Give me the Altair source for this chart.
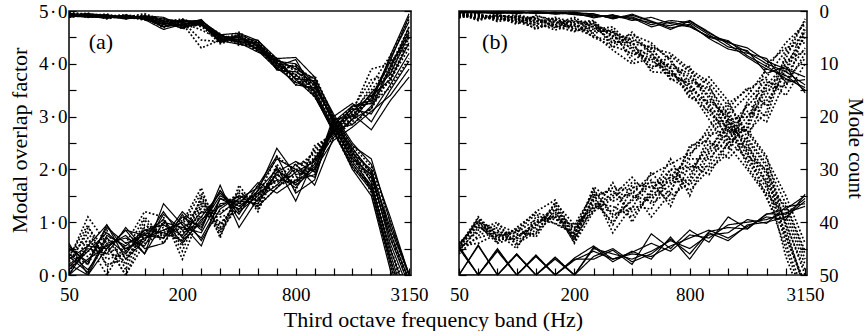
import altair as alt
import pandas as pd

# Third-octave band centre frequencies (Hz), plotted at equal spacing
bands = ["50", "63", "80", "100", "125", "160", "200", "250", "315", "400",
         "500", "630", "800", "1000", "1250", "1600", "2000", "2500", "3150"]
labelled_bands = ["50", "200", "800", "3150"]
overlap_ticks = [0, 1, 2, 3, 4, 5]
count_ticks = [0, 10, 20, 30, 40, 50]
panel_names = ["(a)", "(b)"]
panel_label_x = [1.04, 1.2]
panel_label_y = [4.41, 4.41]

# ---- panel (a): modal overlap factor per band ----
a_overlap_solid = [
    [0.60, 0.00, 0.50, 0.85, 0.40, 1.35, 0.95, 0.55, 1.45, 1.25, 1.60, 2.40, 1.90, 2.00, 2.90, 3.20, 3.30, 4.05, 4.90],
    [0.00, 0.55, 0.95, 0.45, 0.80, 0.70, 1.20, 0.85, 1.70, 0.90, 1.45, 1.70, 2.10, 1.70, 2.60, 2.95, 3.15, 3.90, 4.70],
    [0.30, 0.55, 0.50, 0.85, 0.75, 1.05, 0.60, 1.05, 1.30, 1.50, 1.40, 2.05, 1.40, 2.20, 2.70, 3.05, 2.75, 3.30, 3.75],
    [0.00, 0.30, 0.55, 0.75, 0.40, 1.00, 0.90, 0.80, 1.45, 1.35, 1.75, 1.55, 1.80, 1.90, 2.80, 3.10, 3.40, 3.70, 4.40],
    [0.50, 0.25, 0.90, 0.60, 0.75, 0.70, 1.10, 0.90, 1.60, 1.20, 1.50, 1.90, 1.65, 2.10, 2.75, 2.85, 3.20, 3.95, 4.60],
    [0.20, 0.00, 0.70, 0.40, 0.85, 0.95, 0.75, 1.20, 1.15, 1.45, 1.65, 2.20, 2.00, 1.85, 2.85, 3.15, 3.05, 3.60, 4.20],
    [0.40, 0.10, 0.60, 0.70, 0.55, 1.15, 0.85, 0.95, 1.50, 1.30, 1.55, 1.80, 1.75, 2.05, 2.65, 2.95, 3.35, 4.10, 4.80],
    [0.10, 0.45, 0.80, 0.50, 0.70, 0.85, 1.00, 0.70, 1.35, 1.40, 1.35, 1.95, 2.15, 1.95, 3.00, 3.25, 2.90, 3.50, 4.05],
    [0.55, 0.20, 0.95, 0.30, 0.65, 1.20, 0.70, 1.10, 1.55, 1.15, 1.70, 2.25, 1.55, 1.80, 2.95, 3.00, 3.45, 3.80, 4.55],
    [0.15, 0.50, 0.40, 0.90, 0.50, 0.60, 1.15, 0.65, 1.25, 1.50, 1.30, 1.65, 1.95, 2.15, 2.70, 3.20, 3.25, 4.15, 4.95],
    [0.35, 0.05, 0.75, 0.55, 0.85, 0.80, 0.65, 1.00, 1.60, 1.05, 1.60, 2.00, 1.70, 2.00, 2.55, 2.80, 3.10, 3.40, 3.90],
]
a_overlap_dotted = [
    [0.30, 1.10, 0.60, 0.00, 0.60, 0.80, 1.00, 1.65, 0.70, 1.70, 1.20, 2.00, 1.70, 2.40, 2.70, 3.10, 3.90, 4.00, 4.50],
    [0.00, 0.60, 0.00, 0.60, 1.20, 1.10, 0.30, 1.20, 1.00, 1.25, 1.60, 1.80, 1.90, 2.20, 2.80, 3.05, 3.30, 3.70, 4.30],
    [0.25, 0.80, 0.30, 0.40, 0.90, 0.95, 0.80, 1.40, 0.90, 1.50, 1.30, 1.65, 2.05, 2.30, 2.75, 2.95, 3.45, 3.85, 4.65],
    [0.50, 0.35, 0.70, 0.20, 1.05, 0.60, 1.05, 1.25, 1.20, 1.35, 1.45, 1.90, 1.85, 2.10, 2.85, 3.20, 3.25, 3.55, 4.10],
    [0.15, 0.90, 0.45, 0.50, 0.65, 1.00, 0.55, 1.50, 0.80, 1.60, 1.25, 2.10, 1.60, 2.45, 2.65, 3.00, 3.60, 4.15, 4.85],
    [0.40, 0.20, 0.85, 0.10, 0.95, 0.75, 0.90, 1.10, 1.10, 1.20, 1.70, 1.75, 2.00, 2.00, 2.90, 2.85, 3.15, 3.75, 4.40],
    [0.05, 0.70, 0.20, 0.30, 0.75, 0.90, 0.65, 1.35, 0.75, 1.45, 1.35, 1.95, 1.75, 2.25, 2.70, 3.10, 3.50, 3.95, 4.70],
    [0.35, 0.95, 0.15, 0.45, 1.10, 0.70, 0.95, 1.55, 0.95, 1.40, 1.50, 2.25, 1.95, 2.35, 2.75, 3.15, 3.70, 3.80, 4.60],
    [0.20, 0.45, 0.55, 0.00, 0.80, 1.05, 0.45, 1.30, 1.30, 1.55, 1.40, 1.85, 2.10, 2.15, 2.85, 3.00, 3.35, 4.05, 4.35],
    [0.45, 0.65, 0.40, 0.35, 0.70, 0.85, 0.75, 1.45, 0.85, 1.30, 1.55, 1.70, 1.80, 2.20, 2.60, 2.90, 3.40, 3.65, 4.50],
]
# ---- panel (a): mode count per band ----
a_count_solid = [
    [0.5, 0.8, 1.0, 1.2, 1.0, 1.5, 2.0, 1.8, 4.5, 4.2, 5.6, 9.0, 8.8, 12.5, 20.0, 25.5, 28.0, 40.0, 50.0],
    [1.0, 0.6, 1.3, 0.9, 1.4, 3.0, 1.6, 2.6, 5.6, 6.3, 7.0, 10.8, 13.5, 15.0, 22.0, 28.0, 31.0, 44.0, 53.0],
    [0.8, 1.1, 0.7, 1.4, 1.2, 2.2, 3.2, 1.9, 4.8, 5.0, 6.4, 9.5, 10.0, 13.8, 21.0, 26.5, 32.5, 46.0, 57.0],
    [0.6, 0.9, 1.2, 1.0, 1.6, 3.5, 2.5, 2.2, 6.0, 4.8, 7.5, 11.0, 12.0, 16.0, 23.0, 29.5, 34.0, 48.0, 60.0],
    [1.2, 0.7, 0.9, 1.3, 0.9, 1.2, 2.8, 2.6, 5.2, 5.8, 6.0, 10.2, 14.0, 14.5, 20.5, 27.0, 30.0, 42.0, 51.0],
    [0.4, 1.0, 1.4, 0.8, 1.3, 2.6, 1.8, 2.0, 4.4, 6.0, 7.8, 9.2, 11.0, 12.8, 19.5, 25.0, 29.0, 39.0, 50.0],
    [0.9, 1.2, 1.1, 1.5, 1.1, 1.8, 3.0, 2.4, 5.9, 4.6, 6.8, 10.5, 9.2, 15.5, 22.5, 30.0, 35.0, 49.0, 62.0],
    [0.7, 0.5, 0.8, 1.1, 1.5, 2.4, 2.2, 1.7, 5.0, 5.4, 5.5, 9.8, 12.8, 13.2, 21.5, 28.5, 33.0, 45.0, 55.0],
    [0.6, 1.0, 0.8, 1.3, 1.4, 2.9, 2.6, 1.6, 5.4, 5.0, 6.6, 10.0, 10.5, 14.2, 20.8, 26.0, 30.5, 41.0, 50.0],
    [1.0, 0.8, 1.2, 1.2, 1.0, 1.9, 1.9, 2.5, 4.6, 5.6, 7.2, 9.0, 13.0, 16.2, 22.8, 29.0, 33.5, 47.0, 58.0],
    [0.8, 0.6, 1.0, 0.9, 1.5, 2.1, 3.3, 2.1, 5.7, 4.4, 6.0, 11.2, 11.5, 13.5, 21.2, 27.5, 31.5, 43.0, 52.0],
]
a_count_dotted = [
    [0.3, 0.6, 0.9, 1.2, 0.5, 1.8, 2.4, 7.0, 5.5, 4.0, 6.5, 9.0, 11.5, 14.0, 21.0, 26.0, 31.0, 43.0, 51.0],
    [0.8, 1.0, 1.2, 0.9, 1.3, 2.0, 1.5, 2.8, 6.2, 5.2, 7.2, 10.0, 12.5, 16.3, 22.0, 29.0, 33.5, 47.0, 58.0],
    [1.1, 0.8, 0.6, 1.4, 1.0, 2.8, 2.6, 2.0, 4.6, 6.5, 6.0, 11.0, 10.5, 13.0, 20.5, 27.5, 30.5, 41.0, 50.0],
    [0.5, 1.2, 1.0, 1.1, 1.7, 1.4, 3.4, 2.5, 5.0, 5.6, 7.6, 9.5, 13.0, 15.2, 23.0, 28.0, 32.0, 45.0, 54.0],
    [0.9, 0.4, 1.5, 0.8, 1.2, 3.2, 2.0, 5.5, 5.8, 4.6, 6.2, 10.6, 12.0, 14.8, 21.8, 26.8, 34.5, 48.0, 61.0],
    [0.6, 0.9, 0.7, 1.5, 0.8, 2.3, 2.9, 2.2, 4.3, 6.0, 5.8, 9.3, 14.0, 12.2, 20.0, 25.5, 29.5, 40.0, 50.0],
    [1.0, 0.7, 1.1, 1.0, 1.4, 1.6, 2.2, 3.6, 5.3, 5.0, 7.0, 10.3, 11.0, 15.8, 22.8, 29.8, 33.0, 45.0, 56.0],
    [0.7, 0.6, 1.3, 1.0, 1.6, 2.5, 1.7, 3.0, 4.7, 6.2, 6.6, 9.7, 12.2, 14.2, 21.2, 28.2, 31.8, 42.0, 52.0],
    [0.4, 1.1, 0.8, 1.3, 0.9, 1.9, 2.7, 2.4, 5.6, 4.8, 7.4, 10.8, 10.2, 15.5, 22.5, 27.2, 33.8, 47.0, 59.0],
    [1.2, 0.8, 1.0, 0.7, 1.3, 3.0, 2.3, 2.6, 5.1, 5.9, 5.7, 9.9, 13.5, 13.6, 20.2, 26.2, 30.8, 42.0, 51.0],
]

# ---- panel (b): modal overlap factor per band ----
b_overlap_solid = [
    [0.00, 0.57, 0.00, 0.40, 0.00, 0.34, 0.00, 0.53, 0.25, 0.45, 0.30, 0.72, 0.30, 0.80, 0.65, 0.95, 1.00, 1.10, 1.40],
    [0.55, 0.00, 0.50, 0.00, 0.38, 0.00, 0.30, 0.30, 0.47, 0.20, 0.78, 0.50, 0.85, 0.62, 1.10, 0.88, 1.15, 1.25, 1.50],
    [0.00, 0.55, 0.00, 0.38, 0.00, 0.30, 0.00, 0.50, 0.40, 0.30, 0.45, 0.65, 0.50, 0.76, 0.80, 1.05, 0.98, 1.29, 1.35],
    [0.50, 0.00, 0.48, 0.00, 0.35, 0.00, 0.28, 0.45, 0.30, 0.40, 0.35, 0.55, 0.70, 0.85, 0.70, 0.92, 1.10, 1.05, 1.53],
    [0.00, 0.00, 0.45, 0.00, 0.36, 0.00, 0.32, 0.55, 0.30, 0.43, 0.60, 0.45, 0.76, 0.70, 0.95, 1.00, 1.05, 1.18, 1.30],
    [0.52, 0.00, 0.00, 0.40, 0.00, 0.33, 0.00, 0.35, 0.50, 0.25, 0.40, 0.68, 0.40, 0.82, 0.90, 0.87, 1.16, 1.15, 1.45],
]
b_overlap_dotted = [
    [0.55, 1.10, 0.75, 0.85, 1.20, 1.42, 0.75, 1.67, 1.40, 1.55, 1.90, 2.10, 2.30, 2.60, 3.05, 3.40, 3.90, 4.40, 4.75],
    [0.60, 0.95, 0.60, 0.72, 0.95, 1.30, 0.65, 1.50, 1.60, 1.20, 1.50, 1.80, 2.00, 2.40, 2.80, 3.20, 3.60, 4.00, 4.50],
    [0.50, 1.00, 0.85, 0.60, 0.80, 1.15, 0.90, 1.30, 1.20, 1.70, 1.35, 1.60, 2.20, 2.20, 2.60, 3.00, 3.30, 3.80, 4.30],
    [0.62, 0.80, 0.95, 0.80, 1.05, 0.98, 0.80, 1.40, 1.00, 1.45, 1.70, 1.40, 1.90, 2.50, 2.40, 2.90, 3.50, 3.60, 4.20],
    [0.53, 1.05, 0.70, 0.87, 0.72, 1.25, 0.60, 1.20, 1.75, 1.00, 1.60, 2.00, 1.70, 2.10, 2.90, 2.70, 3.10, 4.20, 4.60],
    [0.45, 0.90, 0.80, 0.50, 1.10, 1.05, 0.95, 1.55, 0.80, 1.30, 1.25, 1.90, 1.60, 2.00, 2.30, 3.30, 3.70, 3.40, 4.00],
    [0.58, 1.00, 0.65, 0.75, 0.90, 1.35, 0.70, 1.25, 1.50, 1.85, 1.45, 1.70, 2.40, 2.70, 3.15, 3.55, 3.20, 3.90, 4.70],
    [0.40, 0.75, 0.90, 0.70, 1.00, 1.10, 0.85, 1.60, 1.10, 1.40, 1.80, 1.30, 2.10, 1.90, 2.50, 2.80, 4.00, 4.30, 4.40],
    [0.55, 0.60, 0.78, 0.65, 0.85, 1.20, 0.62, 1.35, 1.30, 1.10, 1.55, 2.20, 1.50, 2.30, 2.70, 3.10, 2.90, 3.70, 4.10],
    [0.50, 1.08, 0.72, 0.82, 1.15, 0.97, 0.78, 1.45, 1.65, 1.60, 1.10, 1.55, 2.45, 2.55, 2.20, 2.60, 3.40, 4.10, 4.85],
    [0.48, 0.85, 1.00, 0.55, 0.95, 1.25, 0.88, 1.20, 1.45, 1.75, 1.65, 1.85, 2.25, 2.80, 3.25, 3.50, 3.75, 4.25, 4.80],
    [0.58, 1.02, 0.62, 0.90, 1.18, 1.08, 0.72, 1.62, 1.15, 1.25, 1.95, 1.50, 1.75, 2.35, 2.95, 3.00, 3.55, 3.85, 4.55],
    [0.52, 0.70, 0.82, 0.78, 0.78, 1.38, 0.95, 1.28, 1.55, 1.50, 1.40, 2.00, 2.05, 2.05, 2.50, 3.25, 3.00, 4.05, 4.25],
    [0.60, 0.92, 0.68, 0.68, 1.00, 1.12, 0.68, 1.48, 0.95, 1.65, 1.75, 1.75, 1.80, 2.65, 2.75, 2.75, 3.65, 3.55, 4.65],
]
# ---- panel (b): mode count per band ----
b_count_solid = [
    [0.2, 0.1, 0.3, 0.2, 0.4, 0.3, 0.5, 0.6, 1.4, 0.8, 2.0, 3.5, 1.9, 4.2, 6.0, 7.0, 9.5, 11.0, 12.5],
    [0.1, 0.3, 0.2, 0.4, 0.2, 0.6, 0.3, 1.3, 0.7, 1.8, 1.2, 2.4, 3.0, 4.8, 5.6, 8.5, 10.5, 12.8, 14.5],
    [0.3, 0.2, 0.4, 0.1, 0.5, 0.2, 0.7, 0.9, 1.0, 1.1, 2.6, 1.8, 2.2, 4.5, 6.8, 7.5, 11.8, 10.5, 15.5],
    [0.2, 0.4, 0.1, 0.3, 0.3, 0.5, 0.4, 0.5, 1.5, 0.6, 1.9, 3.2, 2.5, 5.2, 7.2, 8.0, 9.0, 13.5, 13.0],
    [0.4, 0.2, 0.3, 0.5, 0.1, 0.4, 0.6, 1.1, 0.8, 1.5, 2.2, 2.8, 1.8, 4.0, 6.3, 8.8, 11.0, 12.2, 15.0],
    [0.1, 0.3, 0.5, 0.2, 0.4, 0.3, 0.2, 0.8, 1.2, 1.3, 3.0, 2.1, 2.8, 5.0, 5.8, 7.8, 10.0, 11.5, 14.0],
]
b_count_dotted = [
    [0.4, 0.8, 1.2, 0.7, 1.5, 2.2, 1.8, 2.6, 4.0, 5.5, 7.0, 8.0, 11.0, 13.5, 18.0, 23.0, 28.0, 35.0, 44.0],
    [0.8, 1.4, 0.6, 1.8, 1.0, 1.6, 2.8, 3.5, 3.0, 6.8, 8.5, 10.5, 12.5, 16.0, 21.0, 25.5, 30.5, 38.0, 47.0],
    [0.3, 0.6, 1.5, 1.0, 2.4, 1.2, 2.2, 1.8, 5.2, 4.5, 6.0, 9.5, 13.5, 14.5, 19.5, 27.0, 32.0, 40.0, 50.0],
    [1.2, 0.9, 1.0, 2.2, 1.2, 3.2, 1.5, 4.2, 3.5, 7.5, 9.5, 11.5, 14.5, 17.5, 22.5, 28.5, 33.5, 42.0, 52.0],
    [0.6, 1.8, 0.8, 1.3, 3.5, 1.8, 3.8, 2.4, 6.2, 5.0, 7.8, 12.5, 10.5, 18.5, 24.0, 26.0, 31.0, 44.0, 54.0],
    [0.9, 0.5, 1.8, 0.9, 1.9, 2.6, 2.0, 3.0, 4.6, 8.5, 6.5, 9.0, 15.5, 12.5, 17.0, 24.0, 29.0, 36.5, 45.5],
    [0.5, 1.2, 1.1, 2.5, 0.8, 2.0, 3.2, 4.8, 5.8, 6.0, 10.5, 10.0, 12.0, 16.5, 20.5, 29.5, 34.5, 39.0, 48.0],
    [1.0, 0.7, 2.0, 1.5, 2.8, 3.0, 2.5, 2.0, 7.0, 4.0, 8.0, 13.0, 13.0, 15.0, 23.0, 22.5, 27.5, 41.0, 53.0],
    [0.2, 1.6, 0.9, 1.2, 2.0, 1.4, 3.5, 3.8, 3.8, 9.5, 7.2, 11.0, 16.0, 19.0, 19.0, 25.0, 33.0, 37.0, 46.0],
    [0.7, 1.0, 1.4, 2.0, 3.2, 2.4, 1.2, 3.2, 5.5, 7.0, 11.0, 8.5, 11.5, 14.0, 21.5, 27.5, 30.0, 43.0, 51.5],
    [0.6, 1.1, 0.7, 1.6, 2.2, 3.6, 2.6, 4.4, 7.4, 10.0, 9.0, 12.8, 15.0, 20.5, 25.5, 30.0, 35.0, 45.0, 55.0],
    [0.4, 0.9, 1.6, 1.1, 1.4, 2.9, 3.9, 2.9, 4.2, 5.8, 11.5, 11.8, 14.0, 18.0, 24.5, 28.0, 32.5, 46.5, 56.0],
    [1.3, 0.6, 1.3, 1.9, 2.6, 1.5, 2.4, 5.0, 6.6, 8.0, 8.8, 10.8, 16.5, 17.0, 20.0, 26.5, 35.5, 42.5, 52.5],
    [0.5, 1.5, 0.8, 1.4, 1.7, 2.7, 3.0, 2.2, 4.8, 6.2, 6.8, 12.0, 13.8, 19.5, 22.0, 24.5, 29.5, 40.5, 49.0],
]

FONT = "Liberation Serif, Times New Roman, DejaVu Serif, serif"
TICK_FS = 19
TITLE_FS = 22
HEIGHT = 264
PANEL_WIDTHS = [342, 348]


def long_rows(series_list, style, tag):
    rows = []
    for k, values in enumerate(series_list):
        assert len(values) == len(bands)
        for i, v in enumerate(values):
            rows.append({"line": f"{tag}-{style}-{k}", "style": style, "idx": i, "value": v})
    return pd.DataFrame(rows)


def family(solid, dotted, tag):
    return pd.concat([long_rows(solid, "solid", tag), long_rows(dotted, "dotted", tag)],
                     ignore_index=True)


x_scale = alt.Scale(domain=[0, 18.1], nice=False, zero=False)
ov_scale = alt.Scale(domain=[0, 5], nice=False, zero=False)
cnt_scale = alt.Scale(domain=[0, 50], nice=False, zero=False, reverse=True)

x_label_expr = " : ".join(
    f"datum.value == {bands.index(b)} ? '{b}'" for b in labelled_bands) + " : ''"
ov_label_expr = "replace(format(datum.value, '.1f'), '.', '\u200a\u00b7\u200a')"

dash = alt.StrokeDash("style:N", legend=None,
                      scale=alt.Scale(domain=["solid", "dotted"], range=[[1, 0], [1.8, 2]]))
widths = alt.StrokeWidth("style:N", legend=None,
                         scale=alt.Scale(domain=["solid", "dotted"], range=[1.2, 1.7]))


def tick_axis(orient, values):
    # short ticks pointing into the plot frame
    return alt.Axis(orient=orient, values=values, offset=-7, tickSize=7, tickWidth=1.2,
                    tickColor="black", labels=False, domain=False, grid=False, title=None)


def panel(k, ov_df, cnt_df):
    first = k == 0
    x_axis_kw = dict(values=[bands.index(b) for b in labelled_bands], labelExpr=x_label_expr,
                     ticks=False, domain=False, grid=False, labelFont=FONT,
                     labelFontSize=TICK_FS, labelColor="black", labelPadding=10,
                     labelFlush=False, labelOverlap=False)
    if first:
        x_axis = alt.Axis(title="Third octave frequency band (Hz)", titleFont=FONT,
                          titleFontSize=TITLE_FS, titleFontWeight="normal", titleColor="black",
                          titleX=364, titleY=44, titleAlign="center", titleBaseline="middle",
                          **x_axis_kw)
        y_axis = alt.Axis(orient="left", values=overlap_ticks, labelExpr=ov_label_expr,
                          ticks=False, domain=False, grid=False, labelFont=FONT,
                          labelFontSize=TICK_FS, labelColor="black", labelPadding=2,
                          labelFlush=False, labelOverlap=False,
                          title="Modal overlap factor", titleFont=FONT, titleFontSize=TITLE_FS,
                          titleFontWeight="normal", titleColor="black", titleAngle=270,
                          titleX=-50, titleY=129, titleAlign="center", titleBaseline="middle")
    else:
        x_axis = alt.Axis(title=None, **x_axis_kw)
        y_axis = None

    ov_lines = alt.Chart(ov_df).mark_line(color="black", clip=True).encode(
        x=alt.X("idx:Q", scale=x_scale, axis=x_axis),
        y=alt.Y("value:Q", scale=ov_scale, axis=y_axis),
        detail="line:N", strokeDash=dash, strokeWidth=widths, order="idx:Q",
    )
    cnt_lines = alt.Chart(cnt_df).mark_line(color="black", clip=True).encode(
        x=alt.X("idx:Q", scale=x_scale, axis=tick_axis("bottom", list(range(len(bands))))),
        y=alt.Y("value:Q", scale=cnt_scale, axis=tick_axis("right", list(range(0, 51, 5)))),
        detail="line:N", strokeDash=dash, strokeWidth=widths, order="idx:Q",
    )
    label_df = pd.DataFrame({"x": [panel_label_x[k]], "y": [panel_label_y[k]],
                             "text": [panel_names[k]]})
    label = alt.Chart(label_df).mark_text(font=FONT, fontSize=TITLE_FS, align="left",
                                          baseline="middle", color="black").encode(
        x=alt.X("x:Q", scale=x_scale, axis=None),
        y=alt.Y("y:Q", scale=ov_scale, axis=tick_axis("left", [i * 0.5 for i in range(11)])),
        text="text:N",
    )
    layers = [ov_lines, cnt_lines, label]
    if not first:
        anchor = pd.DataFrame({"idx": [0], "value": [0]})
        count_axis = alt.Chart(anchor).mark_point(opacity=0).encode(
            x=alt.X("idx:Q", scale=x_scale, axis=None),
            y=alt.Y("value:Q", scale=cnt_scale, axis=alt.Axis(
                orient="right", values=count_ticks, format="d", ticks=False, domain=False,
                grid=False, labelFont=FONT, labelFontSize=TICK_FS, labelColor="black",
                labelPadding=12, labelAlign="left", labelBaseline="middle",
                labelFlush=False, labelOverlap=False,
                title="Mode count", titleFont=FONT, titleFontSize=21,
                titleFontWeight="normal", titleColor="black", titleAngle=90,
                titleX=47, titleY=137, titleAlign="center", titleBaseline="middle")),
        )
        layers.append(count_axis)
    return (alt.layer(*layers)
            .resolve_scale(y="independent")
            .resolve_axis(x="independent", y="independent")
            .properties(width=PANEL_WIDTHS[k], height=HEIGHT))


pa = panel(0, family(a_overlap_solid, a_overlap_dotted, "a"),
           family(a_count_solid, a_count_dotted, "a"))
pb = panel(1, family(b_overlap_solid, b_overlap_dotted, "b"),
           family(b_count_solid, b_count_dotted, "b"))

chart = (alt.hconcat(pa, pb, spacing=48, bounds="flush")
         .configure_view(stroke="#111", strokeWidth=1.6)
         .properties(padding={"left": 7, "top": 1, "right": 0, "bottom": 0},
                     background="white"))

chart.save("out.html", embed_options={"renderer": "svg", "actions": False})
